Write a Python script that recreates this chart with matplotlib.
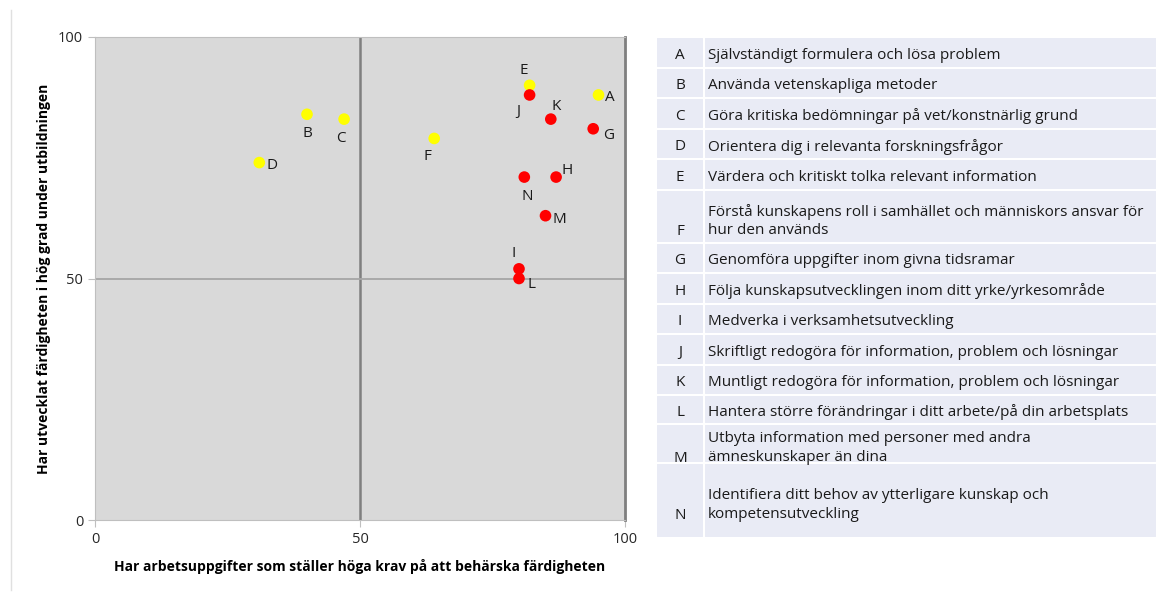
import matplotlib.pyplot as plt
from matplotlib.patches import Rectangle
from matplotlib.lines import Line2D

plt.rcParams['font.family'] = ['Open Sans', 'DejaVu Sans']

# skill codes and values
labels = ['A', 'B', 'C', 'D', 'E', 'F', 'G', 'H', 'I', 'J', 'K', 'L', 'M', 'N']
krav = [95, 40, 47, 31, 82, 64, 94, 87, 80, 82, 86, 80, 85, 81]
utveckl = [88, 84, 83, 74, 90, 79, 81, 71, 52, 88, 83, 50, 63, 71]
colors = ['#FFFF00'] * 6 + ['#FF0000'] * 8

# label offsets in points (dx, dy) and alignment
offsets = {
    'A': (5, -2, 'left'), 'B': (0, -14, 'center'), 'C': (-2, -14, 'center'),
    'D': (5, -2, 'left'), 'E': (-4, 11, 'center'), 'F': (-5, -13, 'center'),
    'G': (7, -5, 'left'), 'H': (4, 5, 'left'), 'I': (-4, 11, 'center'),
    'J': (-8, -12, 'center'), 'K': (4, 9, 'center'), 'L': (6, -4, 'left'),
    'M': (5, -3, 'left'), 'N': (2, -14, 'center'),
}

descriptions = [
    'Självständigt formulera och lösa problem',
    'Använda vetenskapliga metoder',
    'Göra kritiska bedömningar på vet/konstnärlig grund',
    'Orientera dig i relevanta forskningsfrågor',
    'Värdera och kritiskt tolka relevant information',
    'Förstå kunskapens roll i samhället och människors ansvar för\nhur den används',
    'Genomföra uppgifter inom givna tidsramar',
    'Följa kunskapsutvecklingen inom ditt yrke/yrkesområde',
    'Medverka i verksamhetsutveckling',
    'Skriftligt redogöra för information, problem och lösningar',
    'Muntligt redogöra för information, problem och lösningar',
    'Hantera större förändringar i ditt arbete/på din arbetsplats',
    'Utbyta information med personer med andra\nämneskunskaper än dina',
    'Identifiera ditt behov av ytterligare kunskap och\nkompetensutveckling',
]
# row heights of the legend table in pixels
row_heights = [30.5, 30.5, 30.5, 30.5, 30.5, 53, 30.5, 30.5, 30.5, 30.5, 30.5, 28.5, 39, 75]

W, H = 1157, 593
fig = plt.figure(figsize=(W / 100, H / 100), dpi=100)

ax = fig.add_axes([95 / W, 1 - 520 / H, 530 / W, 483 / H])
ax.set_facecolor('#D9D9D9')
ax.set_xlim(0, 100)
ax.set_ylim(0, 100)
ax.set_xticks([0, 50, 100])
ax.set_yticks([0, 50, 100])
ax.tick_params(colors='#BFBFBF', labelcolor='#262626', labelsize=10.5, length=5)
for s in ['left', 'bottom', 'top']:
    ax.spines[s].set_color('#BFBFBF')
ax.spines['right'].set_color('#7F7F7F')
ax.spines['right'].set_linewidth(2)
ax.axvline(50, color='#7F7F7F', lw=1.8, zorder=1)
ax.axhline(50, color='#A6A6A6', lw=1.3, zorder=1)

ax.scatter(krav, utveckl, s=70, c=colors, zorder=3, linewidths=0)
for lab, x, y in zip(labels, krav, utveckl):
    dx, dy, ha = offsets[lab]
    ax.annotate(lab, (x, y), xytext=(dx, dy), textcoords='offset points',
                ha=ha, va='center', fontsize=11, color='#1a1a1a')

ax.set_xlabel('Har arbetsuppgifter som ställer höga krav på att behärska färdigheten',
              fontsize=10, fontweight='bold', labelpad=9)
ax.set_ylabel('Har utvecklat färdigheten i hög grad under utbildningen',
              fontsize=10, fontweight='bold', labelpad=5)

# thin frame line at the left of the picture
fig.add_artist(Line2D([11 / W, 11 / W], [1 - 590 / H, 1 - 10 / H],
                      color='#E0E0E0', lw=1))

# legend table
tab = fig.add_axes([0, 0, 1, 1])
tab.set_xlim(0, W)
tab.set_ylim(H, 0)
tab.axis('off')
x0, xs, x1 = 656, 704, 1157
y = 37
for lab, desc, h in zip(labels, descriptions, row_heights):
    tab.add_patch(Rectangle((x0, y), xs - x0, h, facecolor='#E9EBF5',
                            edgecolor='white', lw=1.5))
    tab.add_patch(Rectangle((xs, y), x1 - xs, h, facecolor='#E9EBF5',
                            edgecolor='white', lw=1.5))
    nlines = desc.count('\n') + 1
    if nlines == 1:
        ty = y + h / 2 + 3
    else:
        ty = y + h / 2 + 5 + 10.5
    tab.text((x0 + xs) / 2, ty, lab, ha='center', va='center', fontsize=11,
             color='#1a1a1a')
    tab.text(xs + 4, y + h / 2 + 5 if nlines > 1 else ty, desc, ha='left',
             va='center', fontsize=11, color='#1a1a1a', linespacing=1.35)
    y += h

fig.savefig('out.png', dpi=100)
